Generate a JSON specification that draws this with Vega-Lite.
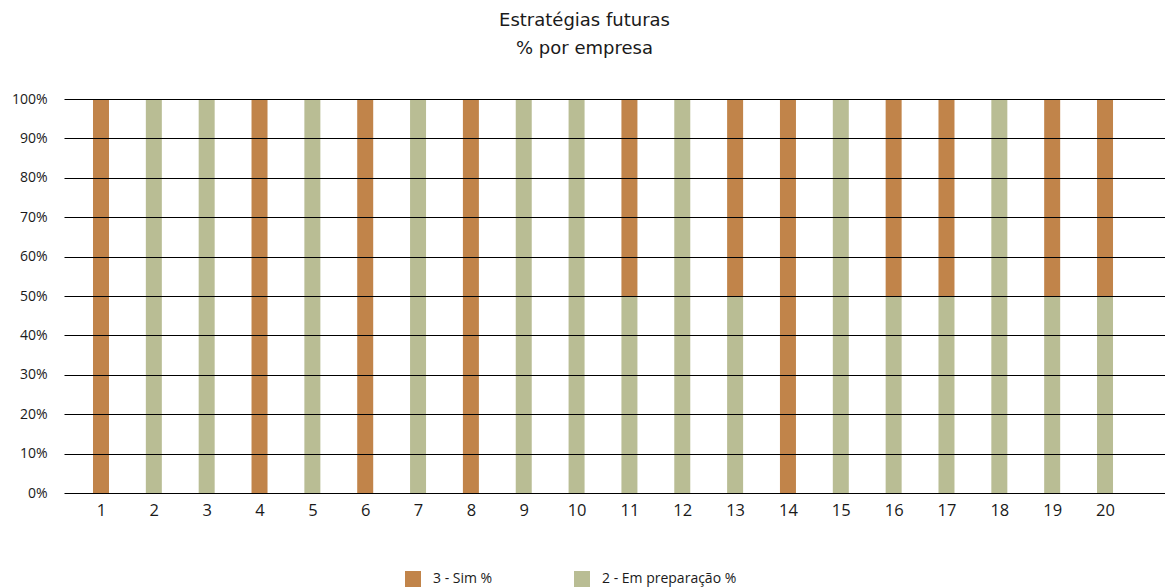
{
  "$schema": "https://vega.github.io/schema/vega-lite/v6.json",
  "autosize": "none",
  "width": 1101,
  "height": 394,
  "padding": {"left": 64, "top": 99, "right": 0, "bottom": 95},
  "background": "white",
  "title": {
    "text": ["Estratégias futuras", "% por empresa"],
    "font": "DejaVu Sans",
    "fontSize": 18,
    "fontWeight": "normal",
    "color": "#1a1a1a",
    "lineHeight": 28,
    "anchor": "middle",
    "dx": -30,
    "offset": 34
  },
  "config": {"view": {"stroke": null}},
  "data": {
    "values": [
      {"empresa": 1, "serie": "3 - Sim %", "valor": 1.0},
      {"empresa": 2, "serie": "2 - Em preparação %", "valor": 1.0},
      {"empresa": 3, "serie": "2 - Em preparação %", "valor": 1.0},
      {"empresa": 4, "serie": "3 - Sim %", "valor": 1.0},
      {"empresa": 5, "serie": "2 - Em preparação %", "valor": 1.0},
      {"empresa": 6, "serie": "3 - Sim %", "valor": 1.0},
      {"empresa": 7, "serie": "2 - Em preparação %", "valor": 1.0},
      {"empresa": 8, "serie": "3 - Sim %", "valor": 1.0},
      {"empresa": 9, "serie": "2 - Em preparação %", "valor": 1.0},
      {"empresa": 10, "serie": "2 - Em preparação %", "valor": 1.0},
      {"empresa": 11, "serie": "3 - Sim %", "valor": 0.5},
      {"empresa": 11, "serie": "2 - Em preparação %", "valor": 0.5},
      {"empresa": 12, "serie": "2 - Em preparação %", "valor": 1.0},
      {"empresa": 13, "serie": "3 - Sim %", "valor": 0.5},
      {"empresa": 13, "serie": "2 - Em preparação %", "valor": 0.5},
      {"empresa": 14, "serie": "3 - Sim %", "valor": 1.0},
      {"empresa": 15, "serie": "2 - Em preparação %", "valor": 1.0},
      {"empresa": 16, "serie": "3 - Sim %", "valor": 0.5},
      {"empresa": 16, "serie": "2 - Em preparação %", "valor": 0.5},
      {"empresa": 17, "serie": "3 - Sim %", "valor": 0.5},
      {"empresa": 17, "serie": "2 - Em preparação %", "valor": 0.5},
      {"empresa": 18, "serie": "2 - Em preparação %", "valor": 1.0},
      {"empresa": 19, "serie": "3 - Sim %", "valor": 0.5},
      {"empresa": 19, "serie": "2 - Em preparação %", "valor": 0.5},
      {"empresa": 20, "serie": "3 - Sim %", "valor": 0.5},
      {"empresa": 20, "serie": "2 - Em preparação %", "valor": 0.5}
    ]
  },
  "transform": [
    {"calculate": "datum.serie === '2 - Em preparação %' ? 0 : 1", "as": "ordem"}
  ],
  "mark": {"type": "bar", "size": 16},
  "encoding": {
    "x": {
      "field": "empresa",
      "type": "quantitative",
      "scale": {"domain": [0.3, 21.135], "nice": false, "zero": false, "padding": 0},
      "axis": {
        "title": null,
        "values": [1,2,3,4,5,6,7,8,9,10,11,12,13,14,15,16,17,18,19,20],
        "grid": false,
        "domain": false,
        "ticks": false,
        "labelFont": "Open Sans",
        "labelFontSize": 16.5,
        "labelColor": "#1a1a1a",
        "labelPadding": 9
      }
    },
    "y": {
      "field": "valor",
      "type": "quantitative",
      "stack": "zero",
      "scale": {"domain": [0, 1], "nice": false, "padding": 0},
      "axis": {
        "title": null,
        "values": [0, 0.1, 0.2, 0.3, 0.4, 0.5, 0.6, 0.7, 0.8, 0.9, 1.0],
        "format": ".0%",
        "grid": true,
        "gridColor": "#000000",
        "gridWidth": 1,
        "gridOpacity": 1,
        "domain": false,
        "ticks": false,
        "labelFont": "Open Sans",
        "labelFontSize": 14,
        "labelColor": "#1a1a1a",
        "labelPadding": 17,
        "zindex": 1
      }
    },
    "order": {"field": "ordem", "type": "quantitative"},
    "color": {
      "field": "serie",
      "type": "nominal",
      "scale": {
        "domain": ["3 - Sim %", "2 - Em preparação %"],
        "range": ["#C1844A", "#B9BD94"]
      },
      "legend": {
        "title": null,
        "orient": "none",
        "legendX": 341,
        "legendY": 472,
        "direction": "horizontal",
        "columns": 2,
        "columnPadding": 81,
        "symbolType": "square",
        "symbolSize": 256,
        "symbolStrokeWidth": 0,
        "symbolOpacity": 1,
        "labelFont": "Open Sans",
        "labelFontSize": 14,
        "labelColor": "#1a1a1a",
        "labelOffset": 12
      }
    }
  }
}
